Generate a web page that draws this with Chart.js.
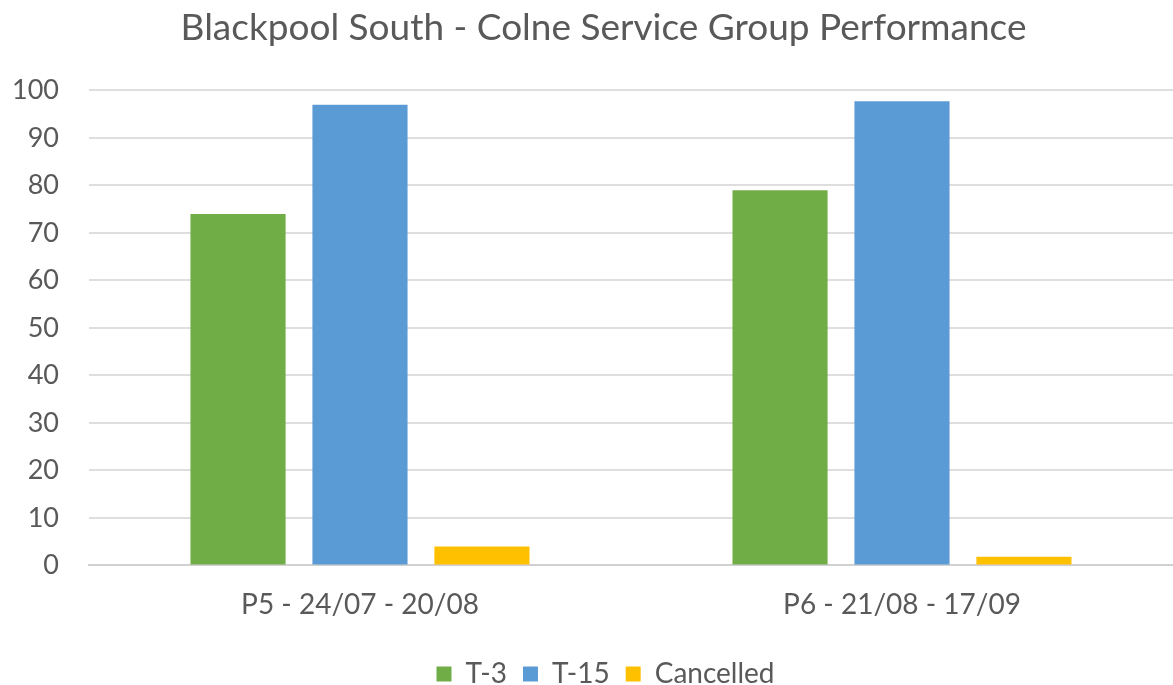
<!DOCTYPE html>
<html>
<head>
<meta charset="utf-8">
<script src="https://cdn.jsdelivr.net/npm/chart.js@4/dist/chart.umd.min.js"></script>
<style>
  html, body { margin: 0; padding: 0; background: #fff; }
  #wrap { width: 1173px; height: 685px; }
</style>
</head>
<body>
<div id="wrap"><canvas id="grafico" width="1173" height="685"></canvas></div>
<script>
// dados
const categorias = ["P5 - 24/07 - 20/08", "P6 - 21/08 - 17/09"];
const t3 = [74, 79];
const t15 = [97, 97.7];
const cancelados = [4, 1.8];
const ticksY = [0, 10, 20, 30, 40, 50, 60, 70, 80, 90, 100];

const cinza = "#595959";
const fonte = "Lato, 'Open Sans', sans-serif";

// título e legenda ficam um pouco à direita do centro, como no original
const deslocaBlocos = {
  id: "deslocaBlocos",
  afterLayout(chart) {
    if (chart.titleBlock) {
      chart.titleBlock.left += 26;
      chart.titleBlock.right += 26;
    }
    if (chart.legend) {
      chart.legend.left += 28;
      chart.legend.right += 28;
      chart.legend.top += 7;
      chart.legend.bottom += 7;
    }
  },
};

const ctx = document.getElementById("grafico").getContext("2d");
const chart = new Chart(ctx, {
  type: "bar",
  data: {
    labels: categorias,
    datasets: [
      { label: "T-3", data: t3, backgroundColor: "#70AD47" },
      { label: "T-15", data: t15, backgroundColor: "#5B9BD5" },
      { label: "Cancelled", data: cancelados, backgroundColor: "#FFC000" },
    ],
  },
  plugins: [deslocaBlocos],
  options: {
    responsive: false,
    animation: false,
    datasets: {
      bar: { categoryPercentage: 0.675, barPercentage: 0.78 },
    },
    layout: { padding: { left: -18, right: 0, top: 4, bottom: -6 } },
    plugins: {
      title: {
        display: true,
        text: "Blackpool South - Colne Service Group Performance",
        color: cinza,
        font: { family: fonte, size: 37, weight: "normal" },
        padding: { top: 2, bottom: 40 },
      },
      legend: {
        position: "bottom",
        labels: {
          color: cinza,
          font: { family: fonte, size: 28 },
          boxWidth: 15,
          boxHeight: 15,
          padding: 16,
        },
      },
      tooltip: { enabled: false },
    },
    scales: {
      x: {
        grid: { display: false },
        border: { color: "#d0d0d0", width: 2 },
        ticks: {
          color: cinza,
          font: { family: fonte, size: 28 },
          padding: 15,
        },
      },
      y: {
        min: 0,
        max: 100,
        afterBuildTicks: (axis) => {
          axis.ticks = ticksY.map((v) => ({ value: v }));
        },
        grid: { color: "#dedede", lineWidth: 2, drawTicks: false },
        border: { display: false },
        ticks: {
          color: cinza,
          font: { family: fonte, size: 27 },
          padding: 30,
        },
      },
    },
  },
});
</script>
</body>
</html>
